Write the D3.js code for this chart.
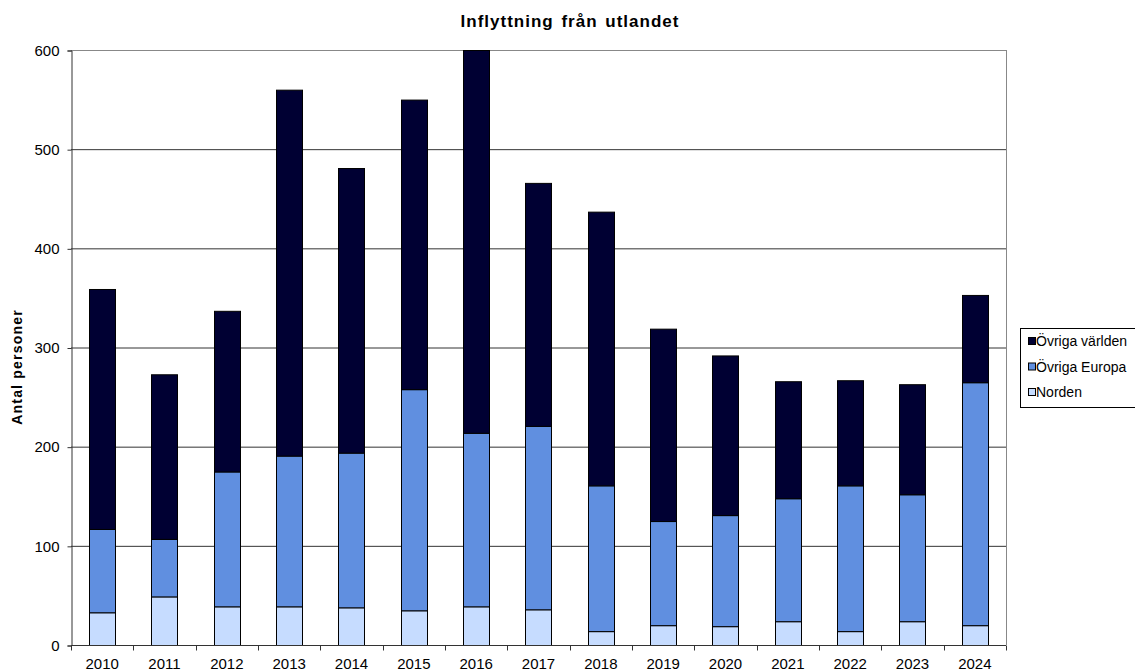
<!DOCTYPE html>
<html>
<head>
<meta charset="utf-8">
<script src="https://cdn.jsdelivr.net/npm/d3@7"></script>
<style>
  body { margin: 0; background: #fff; }
  text { font-family: "Liberation Sans", Arial, sans-serif; }
</style>
</head>
<body>
<div id="chart"></div>
<script>
var years = ["2010","2011","2012","2013","2014","2015","2016","2017","2018","2019","2020","2021","2022","2023","2024"];
var norden =        [33, 49, 39, 39, 38, 35, 39, 36, 14, 20, 19, 24, 14, 24, 20];
var ovrigaEuropa =  [84, 58, 136, 152, 156, 223, 175, 185, 147, 105, 112, 124, 147, 128, 245];
var ovrigaVarlden = [242, 166, 162, 369, 287, 292, 386, 245, 276, 194, 161, 118, 106, 111, 88];
var seriesNames = ["Norden", "Övriga Europa", "Övriga världen"];
var yTicks = [0, 100, 200, 300, 400, 500, 600];

var width = 1135, height = 671;
var margin = {top: 50, right: 129, bottom: 26, left: 71};
var colors = {"Norden": "#c6dcff", "Övriga Europa": "#608fe0", "Övriga världen": "#000033"};

var rows = years.map(function(y, i) {
  return {year: y, "Norden": norden[i], "Övriga Europa": ovrigaEuropa[i], "Övriga världen": ovrigaVarlden[i]};
});

var svg = d3.select("#chart").append("svg")
    .attr("width", width)
    .attr("height", height);

var x = d3.scaleBand()
    .domain(years)
    .range([margin.left, width - margin.right])
    .paddingInner(0.58)
    .paddingOuter(0.29);

var y = d3.scaleLinear()
    .domain([0, 600])
    .range([height - margin.bottom, margin.top]);

// gridlines
svg.append("g")
    .selectAll("line")
    .data(yTicks.slice(1))
    .enter().append("line")
    .attr("x1", margin.left)
    .attr("x2", width - margin.right)
    .attr("y1", d => y(d) + 0.5)
    .attr("y2", d => y(d) + 0.5)
    .style("stroke", d => d == 600 ? "#888" : "#333")
    .style("stroke-width", 1);

// right border of plot
svg.append("line")
    .attr("x1", width - margin.right + 0.5)
    .attr("x2", width - margin.right + 0.5)
    .attr("y1", margin.top)
    .attr("y2", height - margin.bottom)
    .style("stroke", "#888");

var stack = d3.stack().keys(seriesNames);
var layers = stack(rows);

svg.append("g")
    .selectAll("g")
    .data(layers)
    .enter().append("g")
    .style("fill", d => colors[d.key])
    .selectAll("rect")
    .data(d => d)
    .enter().append("rect")
    .attr("x", d => Math.round(x(d.data.year)) + 0.5)
    .attr("y", d => y(d[1]) + 0.5)
    .attr("width", Math.round(x.bandwidth()))
    .attr("height", d => y(d[0]) - y(d[1]))
    .style("stroke", "#000")
    .style("stroke-width", 1);

// y axis
var yAxis = svg.append("g")
    .attr("transform", "translate(" + (margin.left + 0.5) + ",0.5)")
    .call(d3.axisLeft(y).tickValues(yTicks).tickSize(4).tickPadding(8));
yAxis.select(".domain").style("stroke", "#333");
yAxis.selectAll(".tick line").style("stroke", "#333");
yAxis.selectAll("text").style("font-size", "15px").style("fill", "#000");

// x axis with ticks between categories
var step = x.step();
var xAxis = svg.append("g")
    .attr("transform", "translate(0," + (height - margin.bottom + 0.5) + ")");
xAxis.append("line")
    .attr("x1", margin.left)
    .attr("x2", width - margin.right)
    .style("stroke", "#333");
xAxis.selectAll(".sep")
    .data(d3.range(years.length + 1))
    .enter().append("line")
    .attr("x1", i => Math.round(margin.left + i * step) + 0.5)
    .attr("x2", i => Math.round(margin.left + i * step) + 0.5)
    .attr("y1", 0)
    .attr("y2", 5)
    .style("stroke", "#333");
xAxis.selectAll(".lbl")
    .data(years)
    .enter().append("text")
    .attr("x", d => x(d) + x.bandwidth() / 2)
    .attr("y", 23)
    .attr("text-anchor", "middle")
    .style("font-size", "15px")
    .text(d => d);

// title
svg.append("text")
    .attr("x", 570)
    .attr("y", 27)
    .attr("text-anchor", "middle")
    .style("font-size", "17px")
    .style("font-weight", "bold")
    .style("letter-spacing", "1px")
    .style("word-spacing", "2px")
    .text("Inflyttning från utlandet");

// y label
svg.append("text")
    .attr("transform", "translate(22,367) rotate(-90)")
    .attr("text-anchor", "middle")
    .style("font-size", "14px")
    .style("font-weight", "bold")
    .style("letter-spacing", "1.2px")
    .text("Antal personer");

// legend
var legend = svg.append("g").attr("transform", "translate(1020,328)");
legend.append("rect")
    .attr("x", 0.5)
    .attr("y", 0.5)
    .attr("width", 125)
    .attr("height", 79)
    .style("fill", "#fff")
    .style("stroke", "#000");
var legendOrder = seriesNames.slice().reverse();
var li = legend.selectAll(".item")
    .data(legendOrder)
    .enter().append("g")
    .attr("transform", (d, i) => "translate(0," + (13 + i * 25.5) + ")");
li.append("rect")
    .attr("x", 8.5)
    .attr("y", -3.5)
    .attr("width", 7)
    .attr("height", 7)
    .style("fill", d => colors[d])
    .style("stroke", "#000");
li.append("text")
    .attr("x", 16)
    .attr("y", 5)
    .style("font-size", "14px")
    .text(d => d);
</script>
</body>
</html>
